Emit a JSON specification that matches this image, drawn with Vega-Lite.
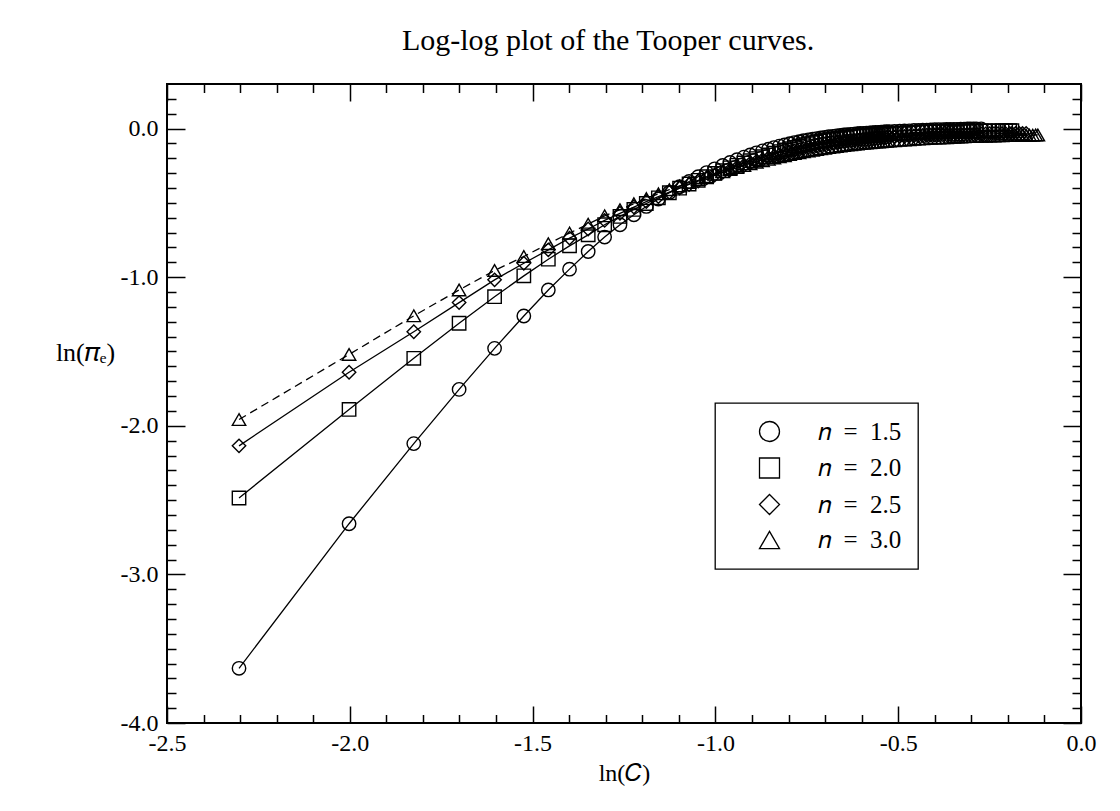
{
  "$schema": "https://vega.github.io/schema/vega-lite/v6.json",
  "width": 914,
  "height": 639,
  "autosize": {"type": "none"},
  "padding": {"left": 167, "top": 84, "right": 39, "bottom": 88},
  "background": "white",
  "title": {"text": "Log-log plot of the Tooper curves.", "font": "Liberation Serif", "fontSize": 30, "fontWeight": "normal", "color": "black", "anchor": "middle", "offset": 27, "dx": -16},
  "config": {"view": {"stroke": "black", "strokeWidth": 2}, "font": "Liberation Serif", "legend": {"strokeColor": "black", "strokeWidth": 1.3, "fillColor": "white", "cornerRadius": 0}},
  "data": {"values": [
    {"n": "1.5", "x": -2.303, "y": -3.632}, {"n": "1.5", "x": -2.002, "y": -2.659}, {"n": "1.5", "x": -1.825, "y": -2.12}, {"n": "1.5", "x": -1.701, "y": -1.755}, {"n": "1.5", "x": -1.604, "y": -1.479}, {"n": "1.5", "x": -1.524, "y": -1.261}, {"n": "1.5", "x": -1.457, "y": -1.086}, {"n": "1.5", "x": -1.399, "y": -0.946}, {"n": "1.5", "x": -1.348, "y": -0.827}, {"n": "1.5", "x": -1.303, "y": -0.730}, {"n": "1.5", "x": -1.261, "y": -0.647}, {"n": "1.5", "x": -1.223, "y": -0.580}, {"n": "1.5", "x": -1.189, "y": -0.524},
    {"n": "1.5", "x": -1.156, "y": -0.474}, {"n": "1.5", "x": -1.126, "y": -0.430}, {"n": "1.5", "x": -1.098, "y": -0.391}, {"n": "1.5", "x": -1.072, "y": -0.356}, {"n": "1.5", "x": -1.047, "y": -0.324}, {"n": "1.5", "x": -1.024, "y": -0.296}, {"n": "1.5", "x": -1.002, "y": -0.271}, {"n": "1.5", "x": -0.980, "y": -0.248}, {"n": "1.5", "x": -0.960, "y": -0.228}, {"n": "1.5", "x": -0.941, "y": -0.209}, {"n": "1.5", "x": -0.922, "y": -0.192}, {"n": "1.5", "x": -0.905, "y": -0.177}, {"n": "1.5", "x": -0.888, "y": -0.163}, {"n": "1.5", "x": -0.871, "y": -0.150}, {"n": "1.5", "x": -0.855, "y": -0.139}, {"n": "1.5", "x": -0.840, "y": -0.128}, {"n": "1.5", "x": -0.825, "y": -0.118}, {"n": "1.5", "x": -0.811, "y": -0.110}, {"n": "1.5", "x": -0.797, "y": -0.102}, {"n": "1.5", "x": -0.784, "y": -0.094}, {"n": "1.5", "x": -0.771, "y": -0.088},
    {"n": "1.5", "x": -0.759, "y": -0.082}, {"n": "1.5", "x": -0.746, "y": -0.076}, {"n": "1.5", "x": -0.734, "y": -0.071}, {"n": "1.5", "x": -0.723, "y": -0.067}, {"n": "1.5", "x": -0.712, "y": -0.063}, {"n": "1.5", "x": -0.701, "y": -0.059}, {"n": "1.5", "x": -0.690, "y": -0.055}, {"n": "1.5", "x": -0.679, "y": -0.052}, {"n": "1.5", "x": -0.669, "y": -0.049}, {"n": "1.5", "x": -0.659, "y": -0.046}, {"n": "1.5", "x": -0.649, "y": -0.043}, {"n": "1.5", "x": -0.640, "y": -0.041}, {"n": "1.5", "x": -0.630, "y": -0.039}, {"n": "1.5", "x": -0.621, "y": -0.037}, {"n": "1.5", "x": -0.612, "y": -0.035}, {"n": "1.5", "x": -0.604, "y": -0.033}, {"n": "1.5", "x": -0.595, "y": -0.032}, {"n": "1.5", "x": -0.587, "y": -0.030}, {"n": "1.5", "x": -0.578, "y": -0.029}, {"n": "1.5", "x": -0.570, "y": -0.028}, {"n": "1.5", "x": -0.562, "y": -0.026}, {"n": "1.5", "x": -0.554, "y": -0.025}, {"n": "1.5", "x": -0.547, "y": -0.024}, {"n": "1.5", "x": -0.539, "y": -0.023}, {"n": "1.5", "x": -0.532, "y": -0.021}, {"n": "1.5", "x": -0.524, "y": -0.020},
    {"n": "1.5", "x": -0.510, "y": -0.019}, {"n": "1.5", "x": -0.496, "y": -0.017}, {"n": "1.5", "x": -0.483, "y": -0.016}, {"n": "1.5", "x": -0.470, "y": -0.015}, {"n": "1.5", "x": -0.457, "y": -0.013}, {"n": "1.5", "x": -0.445, "y": -0.012}, {"n": "1.5", "x": -0.433, "y": -0.011}, {"n": "1.5", "x": -0.422, "y": -0.010}, {"n": "1.5", "x": -0.411, "y": -0.009}, {"n": "1.5", "x": -0.400, "y": -0.008}, {"n": "1.5", "x": -0.389, "y": -0.007}, {"n": "1.5", "x": -0.378, "y": -0.007}, {"n": "1.5", "x": -0.368, "y": -0.006}, {"n": "1.5", "x": -0.358, "y": -0.006}, {"n": "1.5", "x": -0.348, "y": -0.005}, {"n": "1.5", "x": -0.339, "y": -0.005}, {"n": "1.5", "x": -0.329, "y": -0.004}, {"n": "1.5", "x": -0.320, "y": -0.004}, {"n": "1.5", "x": -0.311, "y": -0.003}, {"n": "1.5", "x": -0.303, "y": -0.003}, {"n": "1.5", "x": -0.294, "y": -0.002}, {"n": "1.5", "x": -0.286, "y": -0.002}, {"n": "1.5", "x": -0.273, "y": -0.002},

    {"n": "2.0", "x": -2.303, "y": -2.486}, {"n": "2.0", "x": -2.002, "y": -1.890}, {"n": "2.0", "x": -1.825, "y": -1.546}, {"n": "2.0", "x": -1.701, "y": -1.310}, {"n": "2.0", "x": -1.604, "y": -1.131}, {"n": "2.0", "x": -1.524, "y": -0.991}, {"n": "2.0", "x": -1.457, "y": -0.879}, {"n": "2.0", "x": -1.399, "y": -0.789}, {"n": "2.0", "x": -1.348, "y": -0.715}, {"n": "2.0", "x": -1.303, "y": -0.647}, {"n": "2.0", "x": -1.261, "y": -0.591}, {"n": "2.0", "x": -1.223, "y": -0.544}, {"n": "2.0", "x": -1.189, "y": -0.504},
    {"n": "2.0", "x": -1.156, "y": -0.466}, {"n": "2.0", "x": -1.126, "y": -0.432}, {"n": "2.0", "x": -1.098, "y": -0.401}, {"n": "2.0", "x": -1.072, "y": -0.373}, {"n": "2.0", "x": -1.047, "y": -0.348}, {"n": "2.0", "x": -1.024, "y": -0.324}, {"n": "2.0", "x": -1.002, "y": -0.302}, {"n": "2.0", "x": -0.980, "y": -0.283}, {"n": "2.0", "x": -0.960, "y": -0.264}, {"n": "2.0", "x": -0.941, "y": -0.247}, {"n": "2.0", "x": -0.922, "y": -0.231}, {"n": "2.0", "x": -0.905, "y": -0.216}, {"n": "2.0", "x": -0.888, "y": -0.202}, {"n": "2.0", "x": -0.871, "y": -0.189}, {"n": "2.0", "x": -0.855, "y": -0.177}, {"n": "2.0", "x": -0.840, "y": -0.165}, {"n": "2.0", "x": -0.825, "y": -0.155}, {"n": "2.0", "x": -0.811, "y": -0.144}, {"n": "2.0", "x": -0.797, "y": -0.135}, {"n": "2.0", "x": -0.784, "y": -0.126}, {"n": "2.0", "x": -0.771, "y": -0.117},
    {"n": "2.0", "x": -0.759, "y": -0.109}, {"n": "2.0", "x": -0.746, "y": -0.102}, {"n": "2.0", "x": -0.734, "y": -0.096}, {"n": "2.0", "x": -0.723, "y": -0.090}, {"n": "2.0", "x": -0.712, "y": -0.084}, {"n": "2.0", "x": -0.701, "y": -0.080}, {"n": "2.0", "x": -0.690, "y": -0.075}, {"n": "2.0", "x": -0.679, "y": -0.071}, {"n": "2.0", "x": -0.669, "y": -0.067}, {"n": "2.0", "x": -0.659, "y": -0.064}, {"n": "2.0", "x": -0.649, "y": -0.061}, {"n": "2.0", "x": -0.640, "y": -0.058}, {"n": "2.0", "x": -0.630, "y": -0.055}, {"n": "2.0", "x": -0.621, "y": -0.053}, {"n": "2.0", "x": -0.612, "y": -0.051}, {"n": "2.0", "x": -0.604, "y": -0.049}, {"n": "2.0", "x": -0.595, "y": -0.047}, {"n": "2.0", "x": -0.587, "y": -0.045}, {"n": "2.0", "x": -0.578, "y": -0.043}, {"n": "2.0", "x": -0.570, "y": -0.042}, {"n": "2.0", "x": -0.562, "y": -0.040}, {"n": "2.0", "x": -0.554, "y": -0.039}, {"n": "2.0", "x": -0.547, "y": -0.038}, {"n": "2.0", "x": -0.539, "y": -0.036}, {"n": "2.0", "x": -0.532, "y": -0.035}, {"n": "2.0", "x": -0.524, "y": -0.034},
    {"n": "2.0", "x": -0.510, "y": -0.033}, {"n": "2.0", "x": -0.496, "y": -0.031}, {"n": "2.0", "x": -0.483, "y": -0.030}, {"n": "2.0", "x": -0.470, "y": -0.029}, {"n": "2.0", "x": -0.457, "y": -0.026}, {"n": "2.0", "x": -0.445, "y": -0.025}, {"n": "2.0", "x": -0.433, "y": -0.024}, {"n": "2.0", "x": -0.422, "y": -0.023}, {"n": "2.0", "x": -0.411, "y": -0.022}, {"n": "2.0", "x": -0.400, "y": -0.022}, {"n": "2.0", "x": -0.389, "y": -0.021}, {"n": "2.0", "x": -0.378, "y": -0.020}, {"n": "2.0", "x": -0.368, "y": -0.020}, {"n": "2.0", "x": -0.358, "y": -0.019}, {"n": "2.0", "x": -0.348, "y": -0.019}, {"n": "2.0", "x": -0.339, "y": -0.018}, {"n": "2.0", "x": -0.329, "y": -0.018}, {"n": "2.0", "x": -0.320, "y": -0.017}, {"n": "2.0", "x": -0.311, "y": -0.017}, {"n": "2.0", "x": -0.303, "y": -0.017}, {"n": "2.0", "x": -0.294, "y": -0.016}, {"n": "2.0", "x": -0.286, "y": -0.016}, {"n": "2.0", "x": -0.273, "y": -0.016}, {"n": "2.0", "x": -0.261, "y": -0.016}, {"n": "2.0", "x": -0.250, "y": -0.015}, {"n": "2.0", "x": -0.238, "y": -0.015}, {"n": "2.0", "x": -0.227, "y": -0.015}, {"n": "2.0", "x": -0.216, "y": -0.014}, {"n": "2.0", "x": -0.206, "y": -0.014}, {"n": "2.0", "x": -0.195, "y": -0.014}, {"n": "2.0", "x": -0.189, "y": -0.014},

    {"n": "2.5", "x": -2.303, "y": -2.135}, {"n": "2.5", "x": -2.002, "y": -1.64}, {"n": "2.5", "x": -1.825, "y": -1.367}, {"n": "2.5", "x": -1.701, "y": -1.171}, {"n": "2.5", "x": -1.604, "y": -1.018}, {"n": "2.5", "x": -1.524, "y": -0.906}, {"n": "2.5", "x": -1.457, "y": -0.816}, {"n": "2.5", "x": -1.399, "y": -0.737}, {"n": "2.5", "x": -1.348, "y": -0.676}, {"n": "2.5", "x": -1.303, "y": -0.618}, {"n": "2.5", "x": -1.261, "y": -0.570}, {"n": "2.5", "x": -1.223, "y": -0.528}, {"n": "2.5", "x": -1.189, "y": -0.491},
    {"n": "2.5", "x": -1.156, "y": -0.458}, {"n": "2.5", "x": -1.126, "y": -0.428}, {"n": "2.5", "x": -1.098, "y": -0.400}, {"n": "2.5", "x": -1.072, "y": -0.376}, {"n": "2.5", "x": -1.047, "y": -0.353}, {"n": "2.5", "x": -1.024, "y": -0.332}, {"n": "2.5", "x": -1.002, "y": -0.313}, {"n": "2.5", "x": -0.980, "y": -0.295}, {"n": "2.5", "x": -0.960, "y": -0.278}, {"n": "2.5", "x": -0.941, "y": -0.262}, {"n": "2.5", "x": -0.922, "y": -0.248}, {"n": "2.5", "x": -0.905, "y": -0.234}, {"n": "2.5", "x": -0.888, "y": -0.222}, {"n": "2.5", "x": -0.871, "y": -0.210}, {"n": "2.5", "x": -0.855, "y": -0.198}, {"n": "2.5", "x": -0.840, "y": -0.188}, {"n": "2.5", "x": -0.825, "y": -0.178}, {"n": "2.5", "x": -0.811, "y": -0.168}, {"n": "2.5", "x": -0.797, "y": -0.159}, {"n": "2.5", "x": -0.784, "y": -0.150}, {"n": "2.5", "x": -0.771, "y": -0.142},
    {"n": "2.5", "x": -0.759, "y": -0.135}, {"n": "2.5", "x": -0.746, "y": -0.128}, {"n": "2.5", "x": -0.734, "y": -0.121}, {"n": "2.5", "x": -0.723, "y": -0.116}, {"n": "2.5", "x": -0.712, "y": -0.110}, {"n": "2.5", "x": -0.701, "y": -0.105}, {"n": "2.5", "x": -0.690, "y": -0.101}, {"n": "2.5", "x": -0.679, "y": -0.097}, {"n": "2.5", "x": -0.669, "y": -0.093}, {"n": "2.5", "x": -0.659, "y": -0.090}, {"n": "2.5", "x": -0.649, "y": -0.086}, {"n": "2.5", "x": -0.640, "y": -0.083}, {"n": "2.5", "x": -0.630, "y": -0.080}, {"n": "2.5", "x": -0.621, "y": -0.078}, {"n": "2.5", "x": -0.612, "y": -0.076}, {"n": "2.5", "x": -0.604, "y": -0.074}, {"n": "2.5", "x": -0.595, "y": -0.072}, {"n": "2.5", "x": -0.587, "y": -0.070}, {"n": "2.5", "x": -0.578, "y": -0.068}, {"n": "2.5", "x": -0.570, "y": -0.067}, {"n": "2.5", "x": -0.562, "y": -0.064}, {"n": "2.5", "x": -0.554, "y": -0.063}, {"n": "2.5", "x": -0.547, "y": -0.062}, {"n": "2.5", "x": -0.539, "y": -0.060}, {"n": "2.5", "x": -0.532, "y": -0.059}, {"n": "2.5", "x": -0.524, "y": -0.058},
    {"n": "2.5", "x": -0.510, "y": -0.056}, {"n": "2.5", "x": -0.496, "y": -0.054}, {"n": "2.5", "x": -0.483, "y": -0.053}, {"n": "2.5", "x": -0.470, "y": -0.052}, {"n": "2.5", "x": -0.457, "y": -0.049}, {"n": "2.5", "x": -0.445, "y": -0.048}, {"n": "2.5", "x": -0.433, "y": -0.047}, {"n": "2.5", "x": -0.422, "y": -0.045}, {"n": "2.5", "x": -0.411, "y": -0.044}, {"n": "2.5", "x": -0.400, "y": -0.043}, {"n": "2.5", "x": -0.389, "y": -0.042}, {"n": "2.5", "x": -0.378, "y": -0.041}, {"n": "2.5", "x": -0.368, "y": -0.041}, {"n": "2.5", "x": -0.358, "y": -0.040}, {"n": "2.5", "x": -0.348, "y": -0.040}, {"n": "2.5", "x": -0.339, "y": -0.039}, {"n": "2.5", "x": -0.329, "y": -0.038}, {"n": "2.5", "x": -0.320, "y": -0.038}, {"n": "2.5", "x": -0.311, "y": -0.037}, {"n": "2.5", "x": -0.303, "y": -0.037}, {"n": "2.5", "x": -0.294, "y": -0.036}, {"n": "2.5", "x": -0.286, "y": -0.036}, {"n": "2.5", "x": -0.273, "y": -0.036}, {"n": "2.5", "x": -0.261, "y": -0.036}, {"n": "2.5", "x": -0.250, "y": -0.035}, {"n": "2.5", "x": -0.238, "y": -0.035}, {"n": "2.5", "x": -0.227, "y": -0.034}, {"n": "2.5", "x": -0.216, "y": -0.034}, {"n": "2.5", "x": -0.206, "y": -0.034}, {"n": "2.5", "x": -0.195, "y": -0.033}, {"n": "2.5", "x": -0.189, "y": -0.033}, {"n": "2.5", "x": -0.179, "y": -0.033}, {"n": "2.5", "x": -0.169, "y": -0.033}, {"n": "2.5", "x": -0.160, "y": -0.033}, {"n": "2.5", "x": -0.150, "y": -0.033},

    {"n": "3.0", "x": -2.303, "y": -1.958}, {"n": "3.0", "x": -2.002, "y": -1.52}, {"n": "3.0", "x": -1.825, "y": -1.26}, {"n": "3.0", "x": -1.701, "y": -1.086}, {"n": "3.0", "x": -1.604, "y": -0.955}, {"n": "3.0", "x": -1.524, "y": -0.861}, {"n": "3.0", "x": -1.457, "y": -0.775}, {"n": "3.0", "x": -1.399, "y": -0.703}, {"n": "3.0", "x": -1.348, "y": -0.643}, {"n": "3.0", "x": -1.303, "y": -0.587}, {"n": "3.0", "x": -1.261, "y": -0.546}, {"n": "3.0", "x": -1.223, "y": -0.506}, {"n": "3.0", "x": -1.189, "y": -0.471},
    {"n": "3.0", "x": -1.156, "y": -0.439}, {"n": "3.0", "x": -1.126, "y": -0.411}, {"n": "3.0", "x": -1.098, "y": -0.386}, {"n": "3.0", "x": -1.072, "y": -0.363}, {"n": "3.0", "x": -1.047, "y": -0.342}, {"n": "3.0", "x": -1.024, "y": -0.323}, {"n": "3.0", "x": -1.002, "y": -0.306}, {"n": "3.0", "x": -0.980, "y": -0.290}, {"n": "3.0", "x": -0.960, "y": -0.275}, {"n": "3.0", "x": -0.941, "y": -0.261}, {"n": "3.0", "x": -0.922, "y": -0.249}, {"n": "3.0", "x": -0.905, "y": -0.237}, {"n": "3.0", "x": -0.888, "y": -0.226}, {"n": "3.0", "x": -0.871, "y": -0.216}, {"n": "3.0", "x": -0.855, "y": -0.207}, {"n": "3.0", "x": -0.840, "y": -0.198}, {"n": "3.0", "x": -0.825, "y": -0.190}, {"n": "3.0", "x": -0.811, "y": -0.182}, {"n": "3.0", "x": -0.797, "y": -0.175}, {"n": "3.0", "x": -0.784, "y": -0.168}, {"n": "3.0", "x": -0.771, "y": -0.162},
    {"n": "3.0", "x": -0.759, "y": -0.156}, {"n": "3.0", "x": -0.746, "y": -0.150}, {"n": "3.0", "x": -0.734, "y": -0.145}, {"n": "3.0", "x": -0.723, "y": -0.140}, {"n": "3.0", "x": -0.712, "y": -0.136}, {"n": "3.0", "x": -0.701, "y": -0.132}, {"n": "3.0", "x": -0.690, "y": -0.128}, {"n": "3.0", "x": -0.679, "y": -0.124}, {"n": "3.0", "x": -0.669, "y": -0.120}, {"n": "3.0", "x": -0.659, "y": -0.117}, {"n": "3.0", "x": -0.649, "y": -0.114}, {"n": "3.0", "x": -0.640, "y": -0.111}, {"n": "3.0", "x": -0.630, "y": -0.108}, {"n": "3.0", "x": -0.621, "y": -0.106}, {"n": "3.0", "x": -0.612, "y": -0.103}, {"n": "3.0", "x": -0.604, "y": -0.101}, {"n": "3.0", "x": -0.595, "y": -0.099}, {"n": "3.0", "x": -0.587, "y": -0.097}, {"n": "3.0", "x": -0.578, "y": -0.095}, {"n": "3.0", "x": -0.570, "y": -0.094}, {"n": "3.0", "x": -0.562, "y": -0.091}, {"n": "3.0", "x": -0.554, "y": -0.090}, {"n": "3.0", "x": -0.547, "y": -0.089}, {"n": "3.0", "x": -0.539, "y": -0.087}, {"n": "3.0", "x": -0.532, "y": -0.086}, {"n": "3.0", "x": -0.524, "y": -0.084},
    {"n": "3.0", "x": -0.510, "y": -0.081}, {"n": "3.0", "x": -0.496, "y": -0.079}, {"n": "3.0", "x": -0.483, "y": -0.077}, {"n": "3.0", "x": -0.470, "y": -0.075}, {"n": "3.0", "x": -0.457, "y": -0.072}, {"n": "3.0", "x": -0.445, "y": -0.070}, {"n": "3.0", "x": -0.433, "y": -0.069}, {"n": "3.0", "x": -0.422, "y": -0.067}, {"n": "3.0", "x": -0.411, "y": -0.065}, {"n": "3.0", "x": -0.400, "y": -0.064}, {"n": "3.0", "x": -0.389, "y": -0.063}, {"n": "3.0", "x": -0.378, "y": -0.062}, {"n": "3.0", "x": -0.368, "y": -0.061}, {"n": "3.0", "x": -0.358, "y": -0.059}, {"n": "3.0", "x": -0.348, "y": -0.058}, {"n": "3.0", "x": -0.339, "y": -0.057}, {"n": "3.0", "x": -0.329, "y": -0.056}, {"n": "3.0", "x": -0.320, "y": -0.055}, {"n": "3.0", "x": -0.311, "y": -0.054}, {"n": "3.0", "x": -0.303, "y": -0.054}, {"n": "3.0", "x": -0.294, "y": -0.053}, {"n": "3.0", "x": -0.286, "y": -0.052}, {"n": "3.0", "x": -0.273, "y": -0.052}, {"n": "3.0", "x": -0.261, "y": -0.051}, {"n": "3.0", "x": -0.250, "y": -0.050}, {"n": "3.0", "x": -0.238, "y": -0.050}, {"n": "3.0", "x": -0.227, "y": -0.049}, {"n": "3.0", "x": -0.216, "y": -0.048}, {"n": "3.0", "x": -0.206, "y": -0.047}, {"n": "3.0", "x": -0.195, "y": -0.047}, {"n": "3.0", "x": -0.189, "y": -0.046}, {"n": "3.0", "x": -0.179, "y": -0.046}, {"n": "3.0", "x": -0.169, "y": -0.045}, {"n": "3.0", "x": -0.160, "y": -0.045}, {"n": "3.0", "x": -0.150, "y": -0.045}, {"n": "3.0", "x": -0.141, "y": -0.044}, {"n": "3.0", "x": -0.132, "y": -0.044}, {"n": "3.0", "x": -0.124, "y": -0.043}, {"n": "3.0", "x": -0.118, "y": -0.043}
  ]},
  "layer": [
    {
      "transform": [{"filter": "datum.n !== '3.0'"}],
      "mark": {"type": "line", "color": "black", "strokeWidth": 1.3},
      "encoding": {
        "x": {"field": "x", "type": "quantitative", "scale": {"domain": [-2.5, 0], "nice": false, "zero": false},
          "axis": {"orient": "bottom", "values": [-2.5, -2, -1.5, -1, -0.5, 0], "tickSize": -17, "tickWidth": 1.5, "tickColor": "black", "domain": false, "grid": false,
            "labelExpr": "replace(format(datum.value, '.1f'), '−', '-')", "labelFont": "Liberation Serif", "labelFontSize": 24, "labelColor": "black", "labelPadding": 25, "labelFlush": false, "labelOverlap": false,
            "title": "ln(𝐶)", "titleFont": "Liberation Serif", "titleFontSize": 24, "titleFontWeight": "normal", "titleColor": "black", "titlePadding": 6}},
        "y": {"field": "y", "type": "quantitative", "scale": {"domain": [-4, 0.3], "nice": false, "zero": false},
          "axis": {"orient": "left", "values": [-4, -3, -2, -1, 0], "tickSize": -18, "tickWidth": 1.5, "tickColor": "black", "domain": false, "grid": false,
            "labelExpr": "replace(format(datum.value, '.1f'), '−', '-')", "labelFont": "Liberation Serif", "labelFontSize": 24, "labelColor": "black", "labelPadding": 27, "labelFlush": false, "labelOverlap": false,
            "title": "ln(𝜋ₑ)", "titleFont": "Liberation Serif", "titleFontSize": 26, "titleFontWeight": "normal", "titleColor": "black", "titleAngle": 0, "titleX": -82, "titleY": 268, "titleAlign": "center", "titleBaseline": "middle"}},
        "detail": {"field": "n"}
      }
    },
    {
      "transform": [{"filter": "datum.n === '3.0'"}],
      "mark": {"type": "line", "color": "black", "strokeWidth": 1.3, "strokeDash": [8, 5]},
      "encoding": {
        "x": {"field": "x", "type": "quantitative", "scale": {"domain": [-2.5, 0], "nice": false, "zero": false}, "axis": null},
        "y": {"field": "y", "type": "quantitative", "scale": {"domain": [-4, 0.3], "nice": false, "zero": false}, "axis": null}
      }
    },
    {
      "mark": {"type": "point", "filled": false, "color": "black", "strokeWidth": 1.4, "opacity": 1, "size": 180},
      "encoding": {
        "x": {"field": "x", "type": "quantitative", "scale": {"domain": [-2.5, 0], "nice": false, "zero": false},
          "axis": {"orient": "bottom", "values": [-2.4, -2.3, -2.2, -2.1, -1.9, -1.8, -1.7, -1.6, -1.4, -1.3, -1.2, -1.1, -0.9, -0.8, -0.7, -0.6, -0.4, -0.3, -0.2, -0.1], "tickSize": -8.5, "tickWidth": 1.5, "tickColor": "black", "domain": false, "grid": false, "labels": false, "title": null}},
        "y": {"field": "y", "type": "quantitative", "scale": {"domain": [-4, 0.3], "nice": false, "zero": false},
          "axis": {"orient": "left", "values": [-3.9, -3.8, -3.7, -3.6, -3.5, -3.4, -3.3, -3.2, -3.1, -2.9, -2.8, -2.7, -2.6, -2.5, -2.4, -2.3, -2.2, -2.1, -1.9, -1.8, -1.7, -1.6, -1.5, -1.4, -1.3, -1.2, -1.1, -0.9, -0.8, -0.7, -0.6, -0.5, -0.4, -0.3, -0.2, -0.1, 0.1, 0.2], "tickSize": -9, "tickWidth": 1.5, "tickColor": "black", "domain": false, "grid": false, "labels": false, "title": null}},
        "shape": {"field": "n", "type": "nominal", "scale": {"domain": ["1.5", "2.0", "2.5", "3.0"], "range": ["circle", "square", "diamond", "triangle-up"]},
          "legend": {"orient": "none", "legendX": 548, "legendY": 319, "title": null, "labelExpr": "'𝑛\u2002=\u2002' + datum.label", "labelFont": "Liberation Serif", "labelFontSize": 25, "labelColor": "black",
            "symbolSize": 400, "symbolStrokeWidth": 1.3, "symbolStrokeColor": "black", "symbolFillColor": "transparent", "symbolOffset": 26, "labelOffset": 36, "rowPadding": 9.5, "padding": 16,
            "strokeColor": "black", "fillColor": "white", "cornerRadius": 0,
            "encode": {"symbols": {"shape": {"value": {"expr": "datum.value === '1.5' ? 'M-2.12,0L2.12,0M-2.12,0A0.68,0.68,0,1,1,-3.48,0A0.68,0.68,0,1,1,-2.12,0M3.48,0A0.68,0.68,0,1,1,2.12,0A0.68,0.68,0,1,1,3.48,0' : datum.value === '2.0' ? 'M-2.8,0L2.8,0M-3.43,-0.63L-2.17,-0.63L-2.17,0.63L-3.43,0.63ZM2.17,-0.63L3.43,-0.63L3.43,0.63L2.17,0.63Z' : datum.value === '2.5' ? 'M-2.8,0L2.8,0M-3.5,0L-2.8,-0.7L-2.1,0L-2.8,0.7ZM2.1,0L2.8,-0.7L3.5,0L2.8,0.7Z' : 'M-2.8,-0.62L-3.52,0.62L-2.08,0.62ZM2.8,-0.62L2.08,0.62L3.52,0.62ZM-2.8,0L-2.0,0M-1.55,0L-0.85,0M-0.35,0L0.35,0M0.85,0L1.55,0M2.0,0L2.8,0'"}}}}}}
      }
    },
    {
      "mark": {"type": "point", "opacity": 0},
      "encoding": {
        "x": {"field": "x", "type": "quantitative", "scale": {"domain": [-2.5, 0], "nice": false, "zero": false},
          "axis": {"orient": "top", "values": [-2.5, -2, -1.5, -1, -0.5, 0], "tickSize": -17, "tickWidth": 1.5, "tickColor": "black", "domain": false, "grid": false, "labels": false, "title": null}},
        "y": {"field": "y", "type": "quantitative", "scale": {"domain": [-4, 0.3], "nice": false, "zero": false},
          "axis": {"orient": "right", "values": [-4, -3, -2, -1, 0], "tickSize": -18, "tickWidth": 1.5, "tickColor": "black", "domain": false, "grid": false, "labels": false, "title": null}}
      }
    },
    {
      "mark": {"type": "point", "opacity": 0},
      "encoding": {
        "x": {"field": "x", "type": "quantitative", "scale": {"domain": [-2.5, 0], "nice": false, "zero": false},
          "axis": {"orient": "top", "values": [-2.4, -2.3, -2.2, -2.1, -1.9, -1.8, -1.7, -1.6, -1.4, -1.3, -1.2, -1.1, -0.9, -0.8, -0.7, -0.6, -0.4, -0.3, -0.2, -0.1], "tickSize": -8.5, "tickWidth": 1.5, "tickColor": "black", "domain": false, "grid": false, "labels": false, "title": null}},
        "y": {"field": "y", "type": "quantitative", "scale": {"domain": [-4, 0.3], "nice": false, "zero": false},
          "axis": {"orient": "right", "values": [-3.9, -3.8, -3.7, -3.6, -3.5, -3.4, -3.3, -3.2, -3.1, -2.9, -2.8, -2.7, -2.6, -2.5, -2.4, -2.3, -2.2, -2.1, -1.9, -1.8, -1.7, -1.6, -1.5, -1.4, -1.3, -1.2, -1.1, -0.9, -0.8, -0.7, -0.6, -0.5, -0.4, -0.3, -0.2, -0.1, 0.1, 0.2], "tickSize": -9, "tickWidth": 1.5, "tickColor": "black", "domain": false, "grid": false, "labels": false, "title": null}}
      }
    }
  ],
  "resolve": {"scale": {"x": "shared", "y": "shared"}, "axis": {"x": "independent", "y": "independent"}}
}
